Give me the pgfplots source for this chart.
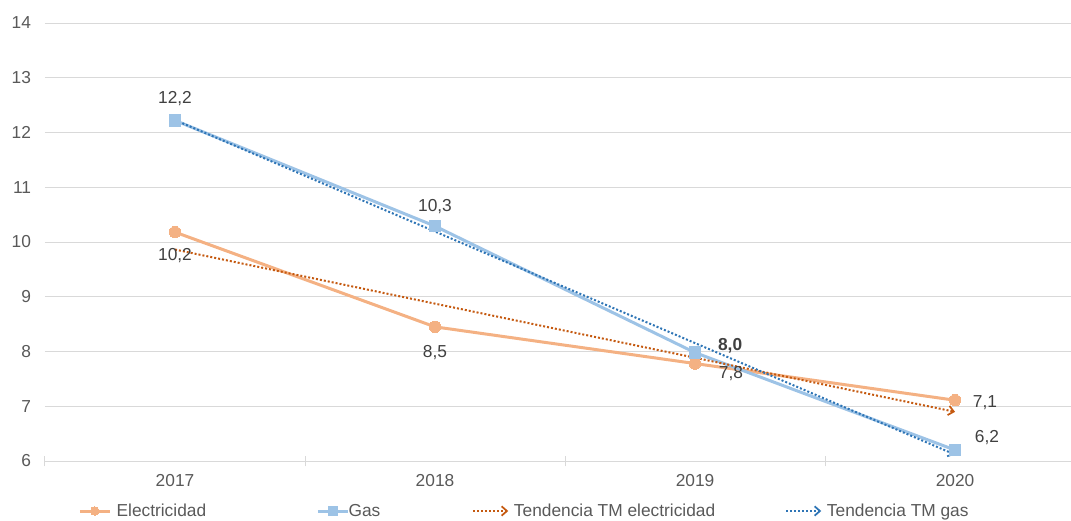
\documentclass[border=0pt]{standalone}
\usepackage{fontspec}
\setmainfont{Liberation Sans}
\usepackage{pgfplots}
\pgfplotsset{compat=1.18}
\usetikzlibrary{arrows.meta}
\definecolor{elec}{HTML}{F4B183}
\definecolor{gasc}{HTML}{9DC3E6}
\definecolor{telec}{HTML}{C55A11}
\definecolor{tgas}{HTML}{2E75B6}
\definecolor{gridc}{HTML}{D9D9D9}
\definecolor{txt}{HTML}{595959}
\definecolor{lbl}{HTML}{404040}
\pgfplotsset{
  markleg/.style={legend image code/.code={\draw[##1, line width=2.25pt, mark size=3.2pt, mark repeat=2, mark phase=2] plot coordinates {(0pt,0pt)(11.25pt,0pt)(22.5pt,0pt)};}},
  trendleg/.style={legend image code/.code={\draw[##1] (0pt,0pt) -- (26.25pt,0pt);}},
}
\begin{document}
\begin{tikzpicture}
\path[use as bounding box] (-33.75pt,-45pt) rectangle (769.5pt,345.75pt);
\begin{axis}[
  scale only axis, width=769.5pt, height=328.5pt,
  at={(0,0)}, anchor=south west,
  xmin=-0.5, xmax=3.446, ymin=6, ymax=14,
  xtick={0,1,2,3}, xticklabels={2017,2018,2019,2020},
  minor xtick={-0.5,0.5,1.5,2.5},
  ytick={6,7,...,14},
  ymajorgrids, major grid style={gridc, line width=0.75pt},
  axis line style={draw=none},
  major tick length=0pt, minor tick length=8pt,
  tick align=center, xtick pos=bottom, ytick pos=left,
  minor tick style={gridc, line width=0.75pt},
  tick label style={font=\fontsize{13}{15}\selectfont, text=txt},
  /pgf/number format/assume math mode=true,
  yticklabel style={xshift=-6.95pt},
  xticklabel style={yshift=-6.8pt},
  clip=false,
  legend columns=4,
  legend style={at={(axis description cs:0,0)}, anchor=west, xshift=24.75pt, yshift=-37.5pt,
    draw=none, fill=none, inner sep=0pt, column sep=0pt,
    nodes={inner sep=0pt, text=txt, font=\fontsize{13}{15}\selectfont}},
]
\addplot[elec, line width=2.25pt, mark=*, mark size=4.3pt, mark options={solid, fill=elec, draw=elec, line width=0pt}, markleg]
  coordinates {(0,10.18)(1,8.45)(2,7.78)(3,7.11)};
\addlegendentry{\makebox[153.75pt][l]{\hspace{4pt}Electricidad}}
\addplot[gasc, line width=2.25pt, mark=square*, mark size=4.3pt, mark options={solid, fill=gasc, draw=gasc, line width=0pt}, markleg]
  coordinates {(0,12.22)(1,10.29)(2,7.98)(3,6.2)};
\addlegendentry{\makebox[92.25pt][l]{\hspace{-0.5pt}Gas}}
\addplot[telec, line width=1.5pt, dash pattern=on 1.5pt off 1.5pt, -{Straight Barb[length=4pt, width=7pt, line width=1.3pt]}, trendleg]
  coordinates {(0,9.862)(3,6.898)};
\addlegendentry{\makebox[207pt][l]{\hspace{3.5pt}Tendencia TM electricidad}}
\addplot[tgas, line width=1.5pt, dash pattern=on 1.5pt off 1.5pt, -{Straight Barb[length=4pt, width=7pt, line width=1.3pt]}, trendleg]
  coordinates {(0,12.228)(3,6.117)};
\addlegendentry{\hspace{3.5pt}Tendencia TM gas}
\begin{scope}[every node/.style={font=\fontsize{13}{15}\selectfont, text=lbl}]
\node at (axis cs:0,12.62) {12,2};
\node at (axis cs:1,10.65) {10,3};
\node at (axis cs:0,9.76) {10,2};
\node at (axis cs:1,7.98) {8,5};
\node at (axis cs:2.135,8.11) {\bfseries 8,0};
\node at (axis cs:2.138,7.6) {7,8};
\node at (axis cs:3.115,7.07) {7,1};
\node at (axis cs:3.123,6.42) {6,2};
\end{scope}
\end{axis}
\end{tikzpicture}
\end{document}
